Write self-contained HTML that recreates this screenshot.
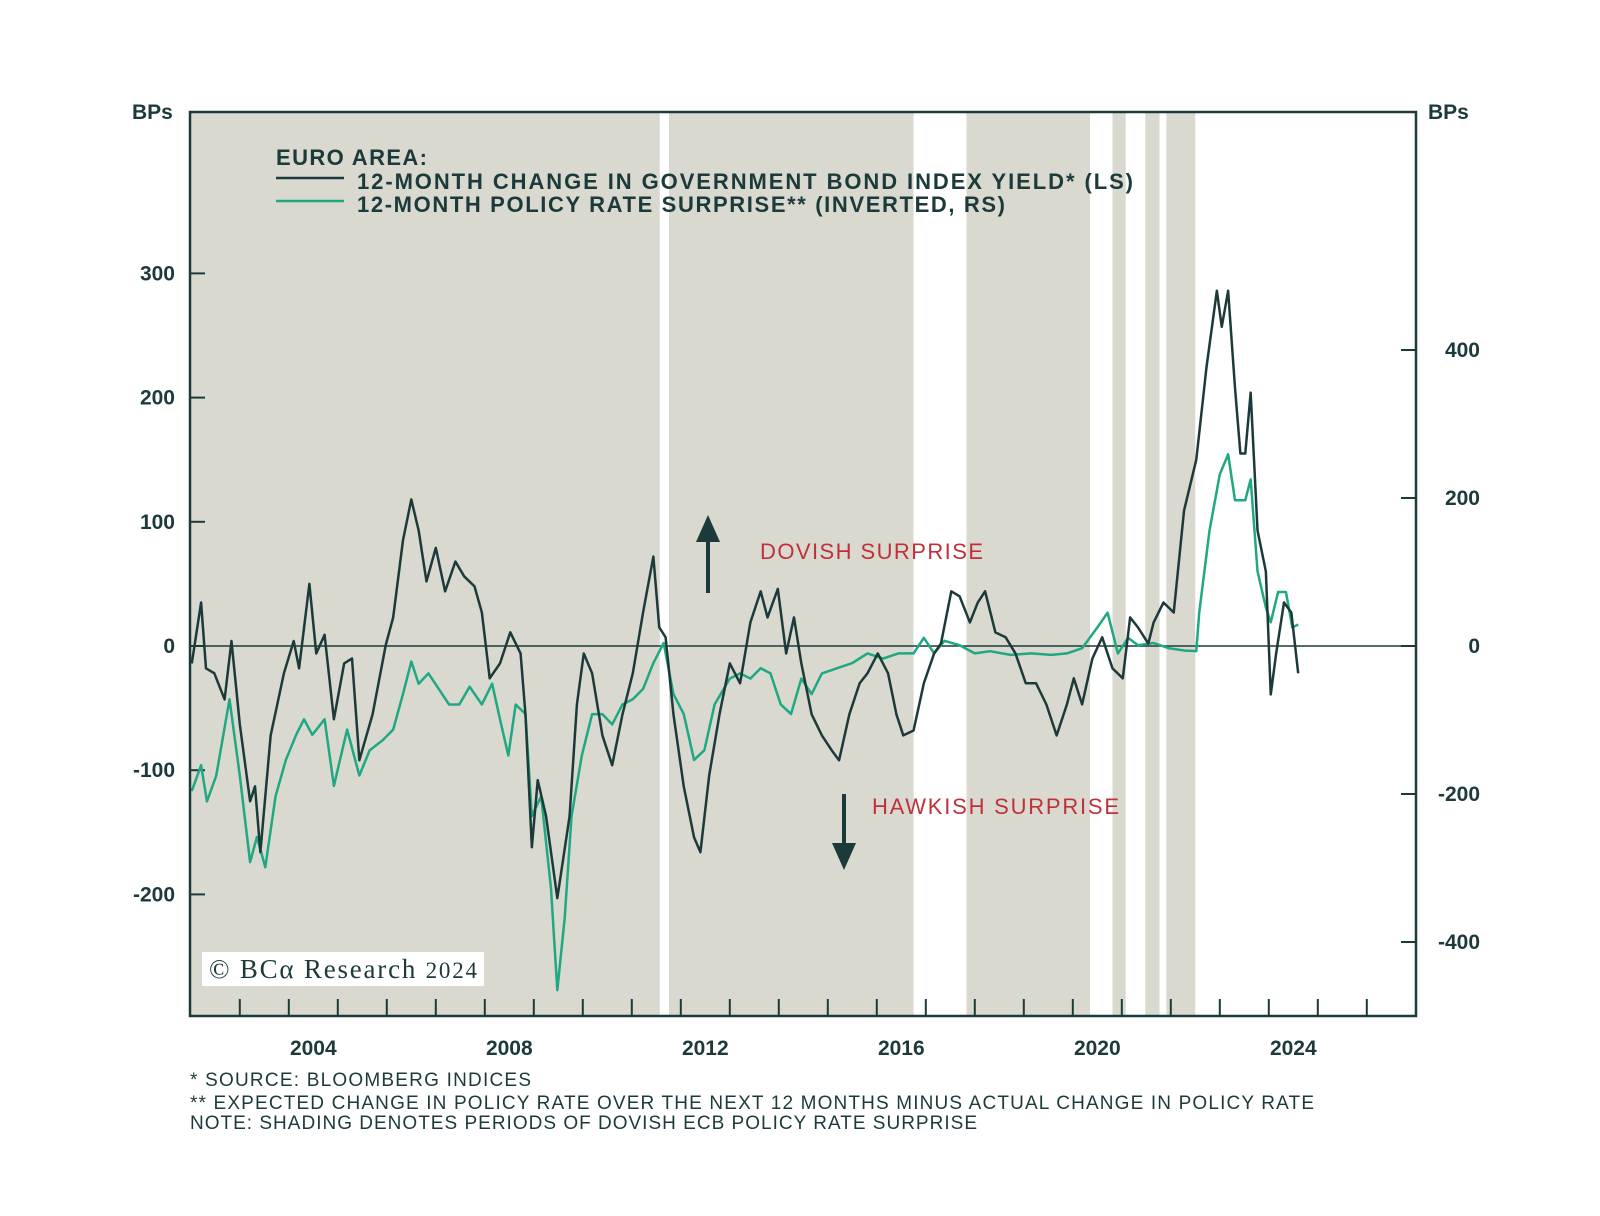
<!DOCTYPE html>
<html><head><meta charset="utf-8"><style>
body{margin:0;background:#fff;}
svg text{font-family:"Liberation Sans",sans-serif;}
</style></head><body>
<svg id="chart" width="1600" height="1211" viewBox="0 0 1600 1211" xmlns="http://www.w3.org/2000/svg">
<rect width="1600" height="1211" fill="#fff"/>
<g id="shade"></g>
<g id="grid"></g>
<g id="lines"></g>
<rect x="190" y="112" width="1226" height="904" fill="none" stroke="#1c3a3a" stroke-width="2.5"/>
<text x="132" y="119" font-size="21" font-weight="bold" fill="#1c3a3a">BPs</text>
<text x="1428" y="119" font-size="21" font-weight="bold" fill="#1c3a3a">BPs</text>
<g>
<text x="276" y="165" font-size="22" textLength="151" font-weight="bold" fill="#1c3a3a">EURO AREA:</text>
<line x1="276" y1="178" x2="344" y2="178" stroke="#1c3a3a" stroke-width="2.5"/>
<text x="357" y="189" font-size="22" textLength="776" font-weight="bold" fill="#1c3a3a">12-MONTH CHANGE IN GOVERNMENT BOND INDEX YIELD* (LS)</text>
<line x1="276" y1="201" x2="344" y2="201" stroke="#1fa882" stroke-width="2.5"/>
<text x="357" y="212" font-size="22" textLength="648" font-weight="bold" fill="#1c3a3a">12-MONTH POLICY RATE SURPRISE** (INVERTED, RS)</text>
</g>
<g>
<line x1="708" y1="593" x2="708" y2="538" stroke="#1c3a3a" stroke-width="4"/>
<polygon points="696,542 720,542 708,515" fill="#1c3a3a"/>
<text x="760" y="559" font-size="22" textLength="223" fill="#c0303a">DOVISH SURPRISE</text>
</g>
<g>
<line x1="844" y1="794" x2="844" y2="848" stroke="#1c3a3a" stroke-width="4"/>
<polygon points="832,843 856,843 844,870" fill="#1c3a3a"/>
<text x="872" y="814" font-size="22" textLength="247" fill="#c0303a">HAWKISH SURPRISE</text>
</g>
<rect x="202" y="952" width="282" height="34" fill="#fff"/>
<text x="209" y="978" font-size="27" textLength="268" fill="#1c3a3a" style="font-family:'Liberation Serif',serif">© BCα Research <tspan font-size="23">2024</tspan></text>
<g font-size="19" fill="#1c3a3a">
<text x="190" y="1086" textLength="341">*  SOURCE: BLOOMBERG INDICES</text>
<text x="190" y="1109" textLength="1124">** EXPECTED CHANGE IN POLICY RATE OVER THE NEXT 12 MONTHS MINUS ACTUAL CHANGE IN POLICY RATE</text>
<text x="190" y="1129" textLength="787">NOTE: SHADING DENOTES PERIODS OF DOVISH ECB POLICY RATE SURPRISE</text>
</g>
</svg>
<script>
const shadeStart=[2002.0,2011.76,2017.83,2020.81,2021.48,2021.91];
const shadeEnd=[2011.57,2016.75,2020.35,2021.08,2021.77,2022.50];
const leftTicks=[300,200,100,0,-100,-200];
const rightTicks=[400,200,0,-200,-400];
const yearLabels=[2004,2008,2012,2016,2020,2024];
const dates=[2002.02,2002.21,2002.31,2002.48,2002.69,2002.83,2003.0,2003.21,2003.31,2003.42,2003.63,2003.9,2004.1,2004.21,2004.42,2004.56,2004.73,2004.92,2005.13,2005.29,2005.44,2005.71,2005.98,2006.13,2006.33,2006.5,2006.65,2006.81,2007.0,2007.19,2007.4,2007.58,2007.79,2007.94,2008.1,2008.31,2008.52,2008.73,2008.83,2008.96,2009.08,2009.25,2009.48,2009.73,2009.88,2010.02,2010.19,2010.4,2010.6,2010.81,2011.02,2011.23,2011.44,2011.56,2011.69,2011.85,2012.06,2012.27,2012.4,2012.58,2012.79,2013.0,2013.21,2013.42,2013.63,2013.77,2013.98,2014.15,2014.31,2014.46,2014.67,2014.88,2015.08,2015.23,2015.44,2015.65,2015.81,2016.02,2016.23,2016.4,2016.54,2016.75,2016.96,2017.17,2017.31,2017.52,2017.69,2017.9,2018.06,2018.21,2018.42,2018.63,2018.83,2019.04,2019.25,2019.46,2019.67,2019.88,2020.02,2020.19,2020.4,2020.6,2020.81,2021.02,2021.17,2021.33,2021.54,2021.65,2021.85,2022.06,2022.27,2022.52,2022.73,2022.94,2023.04,2023.17,2023.31,2023.42,2023.52,2023.63,2023.77,2023.94,2024.04,2024.15,2024.31,2024.46,2024.6];
const yieldChange=[-14,35,-18,-22,-43,4,-63,-125,-113,-166,-72,-22,4,-18,50,-6,9,-59,-14,-10,-92,-55,1,23,85,118,93,52,79,44,68,56,48,27,-26,-14,11,-6,-55,-162,-108,-137,-203,-137,-47,-6,-22,-72,-96,-55,-22,27,72,15,7,-55,-113,-154,-166,-104,-55,-14,-30,19,44,23,46,-6,23,-14,-55,-72,-84,-92,-55,-30,-22,-6,-22,-55,-72,-68,-30,-6,2,44,40,19,35,44,11,7,-6,-30,-30,-47,-72,-47,-26,-47,-10,7,-18,-26,23,15,2,19,35,27,109,150,225,286,257,286,208,155,155,204,93,60,-39,-6,35,27,-22];
const surpriseDates=[2002.02,2002.21,2002.33,2002.52,2002.79,2003.0,2003.21,2003.35,2003.52,2003.73,2003.94,2004.15,2004.31,2004.48,2004.73,2004.92,2005.19,2005.44,2005.65,2005.92,2006.13,2006.33,2006.5,2006.65,2006.85,2007.06,2007.27,2007.48,2007.69,2007.94,2008.15,2008.31,2008.48,2008.63,2008.83,2008.96,2009.15,2009.35,2009.48,2009.63,2009.77,2009.98,2010.19,2010.4,2010.6,2010.81,2011.02,2011.23,2011.44,2011.65,2011.85,2012.06,2012.27,2012.48,2012.69,2013.0,2013.21,2013.42,2013.63,2013.83,2014.04,2014.25,2014.46,2014.67,2014.88,2015.19,2015.5,2015.81,2016.13,2016.44,2016.75,2016.96,2017.17,2017.38,2017.69,2018.0,2018.31,2018.73,2019.15,2019.56,2019.88,2020.19,2020.5,2020.71,2020.92,2021.13,2021.33,2021.65,2021.96,2022.27,2022.52,2022.58,2022.79,2023.0,2023.17,2023.31,2023.52,2023.63,2023.77,2023.94,2024.04,2024.19,2024.35,2024.48,2024.6];
const policySurprise=[-196,-161,-210,-175,-72,-175,-292,-258,-299,-203,-154,-120,-99,-120,-99,-189,-113,-175,-141,-127,-113,-65,-21,-51,-37,-58,-79,-79,-55,-79,-51,-99,-148,-79,-92,-230,-203,-327,-465,-368,-230,-148,-92,-92,-106,-79,-72,-58,-23,4,-65,-92,-154,-141,-79,-44,-37,-44,-30,-37,-79,-92,-44,-65,-37,-30,-23,-10,-17,-10,-10,11,-10,7,1,-10,-7,-12,-10,-12,-10,-3,25,45,-10,11,1,4,-3,-6,-7,45,156,232,259,197,197,225,101,52,32,73,73,25,29];
const NS="http://www.w3.org/2000/svg";
const X0=190,X1=1416,Y0=112,Y1=1016;
function xs(yr){return 288.8+(yr-2004)*49.0;}
function yl(v){return 646-v*1.242;}
function yr(v){return 646-v*0.74;}
function mk(tag,attrs,parent){const e=document.createElementNS(NS,tag);for(const k in attrs)e.setAttribute(k,attrs[k]);parent.appendChild(e);return e;}
const shade=document.getElementById('shade'),grid=document.getElementById('grid'),lines=document.getElementById('lines');
for(let i=0;i<shadeStart.length;i++){
 const r=mk('rect',{x:Math.max(X0,xs(shadeStart[i])),y:Y0,width:xs(shadeEnd[i])-Math.max(X0,xs(shadeStart[i])),height:Y1-Y0,fill:'#d9d9d0'},shade);
 
 
}
const zl=mk('line',{x1:X0,x2:X1,y1:yl(0),y2:yl(0),stroke:'#1c3a3a','stroke-width':1.5},grid);


leftTicks.forEach(v=>{
 const t=mk('line',{x1:X0,x2:X0+15,y1:yl(v),y2:yl(v),stroke:'#1c3a3a','stroke-width':2},grid);
 
 
 const l=mk('text',{x:175,y:yl(v)+7,'text-anchor':'end','font-size':21,'font-weight':'bold',fill:'#1c3a3a'},grid);
 l.textContent=v;
 
 
});
rightTicks.forEach(v=>{
 const t=mk('line',{x1:X1-15,x2:X1,y1:yr(v),y2:yr(v),stroke:'#1c3a3a','stroke-width':2},grid);
 
 
 const l=mk('text',{x:1480,y:yr(v)+7,'text-anchor':'end','font-size':21,'font-weight':'bold',fill:'#1c3a3a'},grid);
 l.textContent=v;
 
 
});
for(let y=2003;y<=2026;y++){
 const t=mk('line',{x1:xs(y),x2:xs(y),y1:Y1,y2:Y1-17,stroke:'#1c3a3a','stroke-width':2},grid);
 
 
}
yearLabels.forEach(y=>{
 const l=mk('text',{x:xs(y+0.5),y:1055,'text-anchor':'middle','font-size':21,'font-weight':'bold',fill:'#1c3a3a'},grid);
 l.textContent=y;
 
 
});
const g=mk('polyline',{points:surpriseDates.map((d,i)=>xs(d)+','+yr(policySurprise[i])).join(' '),fill:'none',stroke:'#1fa882','stroke-width':2.5,'stroke-linejoin':'round'},lines);


const b=mk('polyline',{points:dates.map((d,i)=>xs(d)+','+yl(yieldChange[i])).join(' '),fill:'none',stroke:'#1c3a3a','stroke-width':2.5,'stroke-linejoin':'round'},lines);


</script>
</body></html>
